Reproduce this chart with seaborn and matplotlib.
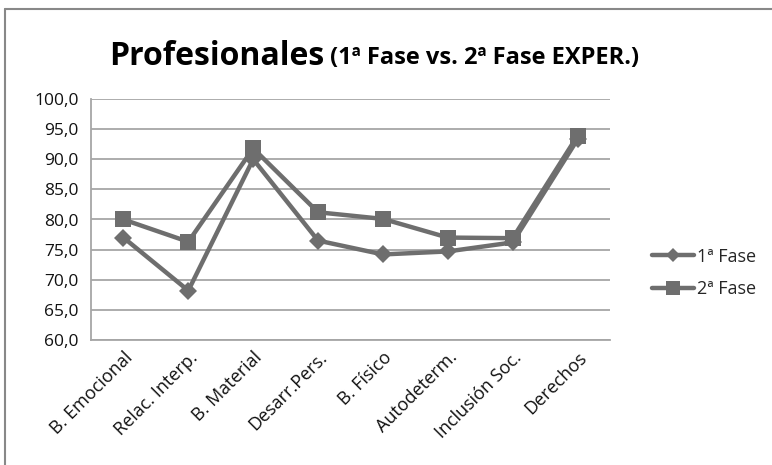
import matplotlib
matplotlib.use('Agg')
import matplotlib.pyplot as plt
import matplotlib.ticker as ticker
from matplotlib.lines import Line2D
import seaborn as sns
import pandas as pd

categories = ['B. Emocional', 'Relac. Interp.', 'B. Material', 'Desarr.Pers.',
              'B. Físico', 'Autodeterm.', 'Inclusión Soc.', 'Derechos']
fase1 = [77.0, 68.2, 90.0, 76.5, 74.2, 74.7, 76.2, 93.3]
fase2 = [80.0, 76.3, 91.8, 81.2, 80.1, 77.0, 76.9, 93.9]
series_names = ['1ª Fase', '2ª Fase']
yticks = [60, 65, 70, 75, 80, 85, 90, 95, 100]

df = pd.DataFrame({
    'cat': categories * 2,
    'valor': fase1 + fase2,
    'serie': [series_names[0]] * len(categories) + [series_names[1]] * len(categories),
})

sns.set_style('white')
plt.rcParams['font.family'] = ['Open Sans', 'DejaVu Sans']

line_col = '#6e6e6e'
grid_col = '#a6a6a6'

fig = plt.figure(figsize=(7.72, 4.65), dpi=100)
ax = fig.add_axes([91 / 772, 1 - 340 / 465, (610 - 91) / 772, (340 - 99) / 465])

sns.lineplot(data=df, x='cat', y='valor', hue='serie', style='serie',
             palette=[line_col, line_col], markers={'1ª Fase': 'D', '2ª Fase': 's'},
             dashes=False, sort=False, linewidth=3.2, markersize=11,
             markeredgewidth=0, ax=ax, legend=False)
# diamond a bit smaller than square
for ln, ms in zip(ax.lines, [9, 11.5]):
    ln.set_markersize(ms)

ax.set_xlim(-0.5, len(categories) - 0.5)
ax.set_ylim(60, 100)
ax.set_yticks(yticks)
ax.yaxis.set_major_formatter(ticker.FuncFormatter(lambda v, p: f'{v:.1f}'.replace('.', ',')))
ax.set_xticks(range(len(categories)))
ax.set_xticklabels(categories, rotation=45, ha='right', rotation_mode='anchor')
ax.set_xticks([i - 0.5 for i in range(len(categories) + 1)], minor=True)
ax.tick_params(axis='x', which='major', length=0, labelsize=13, pad=6, colors='#111111')
ax.tick_params(axis='x', which='minor', length=7, width=1.2, color=grid_col, direction='out')
ax.tick_params(axis='y', length=6, width=1.2, color=grid_col, direction='out',
               labelsize=12.5, pad=3)
for lab in ax.get_yticklabels():
    lab.set_color('#111111')
ax.yaxis.grid(True, color=grid_col, linewidth=1.3)
ax.set_axisbelow(True)
for s in ['top', 'right']:
    ax.spines[s].set_visible(False)
for s in ['left', 'bottom']:
    ax.spines[s].set_color(grid_col)
    ax.spines[s].set_linewidth(1.3)
ax.set_xlabel('')
ax.set_ylabel('')

# legend
handles = [Line2D([], [], color=line_col, lw=3.2, marker='D', ms=7, mew=0),
           Line2D([], [], color=line_col, lw=3.2, marker='s', ms=10, mew=0)]
fig.legend(handles, series_names, loc='center left', bbox_to_anchor=(636 / 772, 1 - 273 / 465),
           frameon=False, fontsize=13, handlelength=2.3, handletextpad=0.2,
           labelspacing=0.8)

# title
fig.text(324 / 772, 1 - 56 / 465, 'Profesionales', ha='right', va='center',
         fontsize=23, fontweight='bold', color='black')
fig.text(330 / 772, 1 - 58 / 465, '(1ª Fase vs. 2ª Fase EXPER.)', ha='left', va='center',
         fontsize=17, fontweight='bold', color='black')

# outer frame
fig.add_artist(Line2D([5 / 772, 5 / 772], [0, 1 - 9 / 465], transform=fig.transFigure,
                      color='#888888', lw=1.5))
fig.add_artist(Line2D([5 / 772, 1], [1 - 9 / 465, 1 - 9 / 465], transform=fig.transFigure,
                      color='#888888', lw=1.5))

fig.savefig('out.png', dpi=100)
